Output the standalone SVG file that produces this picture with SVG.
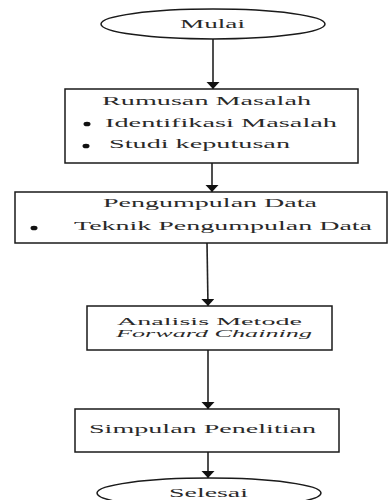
<svg xmlns="http://www.w3.org/2000/svg" width="388" height="500" viewBox="0 0 388 500">
<defs>
<style>
.shape{fill:#fff;stroke:#1a1a1a;stroke-width:1.5}
.t{font-family:"Liberation Serif","DejaVu Serif","Noto Serif","Times New Roman",serif;font-size:13px;fill:#2a2a2a}
.s{font-size:11px}
.i{font-style:italic}
.c{fill:#111}
.conn line{stroke:#222;stroke-width:1.6}
</style>
<marker id="ah" markerUnits="userSpaceOnUse" markerWidth="9" markerHeight="14" refX="7" refY="6.5" orient="auto">
<path d="M0,0 L7,6.5 L0,13 Z" fill="#111"/>
</marker>
</defs>
<rect width="388" height="500" fill="#fff"/>
<g id="connectors" class="conn">
<line x1="213" y1="39" x2="213" y2="89" marker-end="url(#ah)"/>
<line x1="212" y1="163" x2="212" y2="192" marker-end="url(#ah)"/>
<line x1="207" y1="243" x2="208" y2="306" marker-end="url(#ah)"/>
<line x1="208" y1="350" x2="208" y2="409" marker-end="url(#ah)"/>
<line x1="208" y1="452" x2="208" y2="478" marker-end="url(#ah)"/>
</g>
<g id="mulai">
<ellipse class="shape" cx="213" cy="24" rx="112" ry="15"/>
<text class="t" x="180" y="28" textLength="65" lengthAdjust="spacingAndGlyphs">Mulai</text>
</g>
<g id="rumusan">
<rect class="shape" x="65" y="89" width="293" height="74"/>
<text class="t" x="102" y="105" textLength="209" lengthAdjust="spacingAndGlyphs">Rumusan Masalah</text>
<ellipse class="c" cx="87" cy="124" rx="3.5" ry="2.3"/>
<text class="t" x="105" y="127" textLength="232" lengthAdjust="spacingAndGlyphs">Identifikasi Masalah</text>
<ellipse class="c" cx="86" cy="146" rx="3.5" ry="2.3"/>
<text class="t" x="109" y="148" textLength="181" lengthAdjust="spacingAndGlyphs">Studi keputusan</text>
</g>
<g id="pengumpulan">
<rect class="shape" x="15" y="192" width="372" height="51"/>
<text class="t" x="103" y="207" textLength="214" lengthAdjust="spacingAndGlyphs">Pengumpulan Data</text>
<ellipse class="c" cx="34" cy="228" rx="3.5" ry="2.3"/>
<text class="t" x="74" y="230" textLength="298" lengthAdjust="spacingAndGlyphs">Teknik Pengumpulan Data</text>
</g>
<g id="analisis">
<rect class="shape" x="87" y="306" width="245" height="44"/>
<text class="t s" x="117" y="325" textLength="185" lengthAdjust="spacingAndGlyphs">Analisis Metode</text>
<text class="t s i" x="116" y="337" textLength="196" lengthAdjust="spacingAndGlyphs">Forward Chaining</text>
</g>
<g id="simpulan">
<rect class="shape" x="75" y="409" width="264" height="43"/>
<text class="t" x="89" y="433" textLength="227" lengthAdjust="spacingAndGlyphs">Simpulan Penelitian</text>
</g>
<g id="selesai">
<ellipse class="shape" cx="209" cy="493" rx="112" ry="15"/>
<text class="t" x="169" y="497" textLength="79" lengthAdjust="spacingAndGlyphs">Selesai</text>
</g>
</svg>
